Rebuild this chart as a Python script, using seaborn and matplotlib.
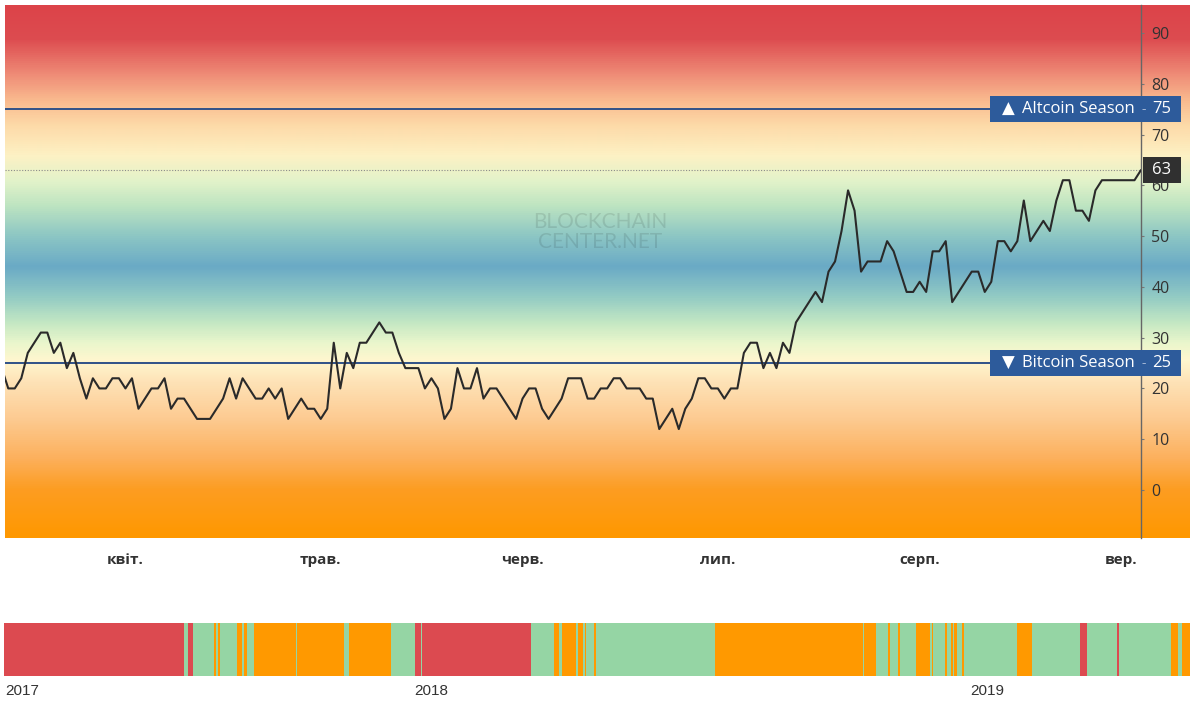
import numpy as np
import pandas as pd
import seaborn as sns
import matplotlib.pyplot as plt
from matplotlib.colors import LinearSegmentedColormap
from matplotlib.patches import Rectangle
from matplotlib.transforms import blended_transform_factory

# altcoin season index, one value per day
start_date = "2019-03-13"
index_values = [
    24,
    20, 20, 22, 27, 29, 31, 31, 27, 29, 24, 27, 22, 18, 22, 20, 20, 22, 22, 20, 22,
    16, 18, 20, 20, 22, 16, 18, 18, 16, 14, 14, 14, 16, 18, 22, 18, 22, 20, 18, 18,
    20, 18, 20, 14, 16, 18, 16, 16, 14, 16, 29, 20, 27, 24, 29, 29, 31, 33, 31, 31,
    27,
    24, 24, 24, 20, 22, 20, 14, 16, 24, 20, 20, 24, 18, 20, 20, 18, 16, 14, 18, 20,
    20, 16, 14, 16, 18, 22, 22, 22, 18, 18, 20, 20, 22, 22, 20, 20, 20, 18, 18, 12,
    14, 16, 12, 16, 18, 22, 22, 20, 20, 18, 20, 20, 27,
    29, 29, 24, 27, 24, 29, 27, 33, 35, 37, 39, 37, 43, 45, 51, 59, 55, 43, 45, 45,
    45, 49, 47, 43, 39, 39, 41, 39, 47, 47, 49, 37, 39, 41, 43, 43, 39, 41, 49, 49,
    47, 49, 57, 49, 51, 53, 51, 57, 61, 61, 55, 55, 53, 59, 61, 61, 61, 61, 61, 61,
    63,
]
month_ticks = ["2019-04-01", "2019-05-01", "2019-06-01", "2019-07-01", "2019-08-01", "2019-09-01"]
month_labels = ["квіт.", "трав.", "черв.", "лип.", "серп.", "вер."]
y_ticks = [0, 10, 20, 30, 40, 50, 60, 70, 80, 90]
altcoin_level = 75
bitcoin_level = 25

# season history strip: R = altcoin, G = neutral, O = bitcoin
strip_states = list("RGRG" "OGOGOGOGOGOGOG" "RGRG" "OGOGOGOGOGOGOGOGOGOGOGOGOGOGOGO" "GRGRG" "OGO")
strip_widths = [
    179.5, 4.5, 4.7, 21.3, 1.5, 2.5, 1.5, 17.5, 5, 2, 2.5, 7.3, 41.7, 1, 47.5, 5,
    41.8, 23.8, 6.2, 1.2, 109, 23, 4.5, 3, 14.3, 2.2, 4.7, 1.8, 1, 8.5, 1.5, 119.9,
    147.3, 1.1, 12.2, 11.7, 1.9, 8.4, 2, 16, 14, 1.5, 1.2, 12.3, 2, 4, 2, 1, 3, 4.5,
    2, 53.5, 15, 47.6, 7.4, 30, 2, 52, 6.7, 4.3, 8,
]
year_ticks = [1, 410, 966]
year_labels = ["2017", "2018", "2019"]

# background gradient
grad_levels = [-9.5, 0, 6, 14, 21, 25.5, 29, 33, 38, 44, 50, 56, 61, 66, 72, 77, 82, 89, 95.6]
grad_colors = ["#ff9800", "#fd9d22", "#fcb05c", "#fdcb92", "#fee2b6", "#fff7cf", "#e9f6cc",
               "#c3e7c3", "#93cbc4", "#6aaac6", "#8cc6c4", "#bde4c1", "#e3f3ca", "#fdf1c4",
               "#fddaa8", "#f9b98e", "#ef8c77", "#dd4c50", "#dc4349"]
strip_palette = {"R": "#dc4a50", "G": "#95d5a4", "O": "#ff9900"}

sns.set_style("white")
plt.rcParams["font.family"] = ["Open Sans", "DejaVu Sans"]

W, H = 1200, 706
fig = plt.figure(figsize=(12, 7.06), dpi=100)


def px_box(left, top, right, bottom):
    return [left / W, 1 - bottom / H, (right - left) / W, (bottom - top) / H]


ylo, yhi = -9.45, 95.5
bg = fig.add_axes(px_box(5, 5, 1190, 538), zorder=0)
ax = fig.add_axes(px_box(5, 5, 1141, 538), zorder=1)
strip = fig.add_axes(px_box(4, 623, 1190, 676))

# gradient background
span = yhi - ylo
cmap = LinearSegmentedColormap.from_list(
    "season", [((v - grad_levels[0]) / (grad_levels[-1] - grad_levels[0]), c)
               for v, c in zip(grad_levels, grad_colors)])
grad = np.linspace(ylo, yhi, 800).reshape(-1, 1)
bg.imshow(grad, aspect="auto", origin="lower", extent=(0, 1, ylo, yhi), cmap=cmap,
          vmin=grad_levels[0], vmax=grad_levels[-1])
bg.set_ylim(ylo, yhi)
bg.axis("off")

# main line
dates = pd.date_range(start_date, periods=len(index_values), freq="D")
df = pd.DataFrame({"date": dates, "value": index_values})
ax.set_facecolor("none")
sns.lineplot(data=df, x="date", y="value", ax=ax, color="#2a2a2a", linewidth=1.5, zorder=4)
ax.axhline(altcoin_level, color="#2f5188", lw=1.4, zorder=3)
ax.axhline(bitcoin_level, color="#2f5188", lw=1.4, zorder=3)
ax.axhline(index_values[-1], color="#8a8a8a", lw=0.8, ls=(0, (1, 1.5)), zorder=2)

ax.set_xlim(dates[0] + pd.Timedelta(hours=12), dates[0] + pd.Timedelta(days=175))
ax.set_ylim(ylo, yhi)
ax.set_xlabel("")
ax.set_ylabel("")
for side in ["top", "left", "bottom"]:
    ax.spines[side].set_visible(False)
ax.spines["right"].set_color("#666666")
ax.spines["right"].set_linewidth(1)

ax.yaxis.tick_right()
ax.set_yticks(y_ticks)
ax.tick_params(axis="y", length=2.5, width=0.8, color="#777777", pad=5,
               labelsize=11.5, labelcolor="#333333")
ax.set_xticks(pd.to_datetime(month_ticks))
ax.set_xticklabels(month_labels, fontweight="bold", fontsize=11, color="#333333")
ax.tick_params(axis="x", length=0, pad=11)

# watermark
ax.text(0.524, 0.593, "BLOCKCHAIN", transform=ax.transAxes, ha="center", va="center",
        fontsize=15, family="Lato", color="#000000", alpha=0.1)
ax.text(0.524, 0.555, "CENTER.NET", transform=ax.transAxes, ha="center", va="center",
        fontsize=15, family="Lato", color="#000000", alpha=0.1)

# level labels on the right
blend = blended_transform_factory(fig.transFigure, ax.transData)
box_h = 26 / (533 / span)
for level, arrow, name in [(altcoin_level, "▲", "Altcoin Season"),
                           (bitcoin_level, "▼", "Bitcoin Season")]:
    fig.add_artist(Rectangle((990 / W, level - box_h / 2), 191 / W, box_h,
                             transform=blend, facecolor="#2d5b9b", edgecolor="none", zorder=10))
    fig.text(1008 / W, level, arrow, transform=blend, ha="center", va="center",
             color="white", fontsize=12, family="DejaVu Sans", zorder=11)
    fig.text(1022 / W, level, name, transform=blend, ha="left", va="center",
             color="white", fontsize=12, zorder=11)
    fig.text(1144 / W, level, "-", transform=blend, ha="center", va="center",
             color="#9fb3d3", fontsize=10, zorder=11)
    fig.text(1162 / W, level, str(level), transform=blend, ha="center", va="center",
             color="white", fontsize=12, zorder=11)

fig.add_artist(Rectangle((1142.5 / W, index_values[-1] - box_h / 2), 38 / W, box_h,
                         transform=blend, facecolor="#303030", edgecolor="none", zorder=10))
fig.text(1162 / W, index_values[-1], str(index_values[-1]), transform=blend, ha="center",
         va="center", color="white", fontsize=12, zorder=11)

# season history strip
lefts = np.concatenate([[0], np.cumsum(strip_widths)[:-1]])
strip.barh(0, strip_widths, left=lefts, height=1,
           color=[strip_palette[s] for s in strip_states], linewidth=0)
strip.set_xlim(0, sum(strip_widths))
strip.set_ylim(-0.5, 0.5)
strip.set_yticks([])
strip.set_xticks(year_ticks)
strip.set_xticklabels(year_labels, ha="left", family="Liberation Sans", fontsize=11,
                      color="#333333")
strip.tick_params(axis="x", length=0, pad=6)
for side in strip.spines.values():
    side.set_visible(False)

fig.savefig("out.png", dpi=100, facecolor="white")
